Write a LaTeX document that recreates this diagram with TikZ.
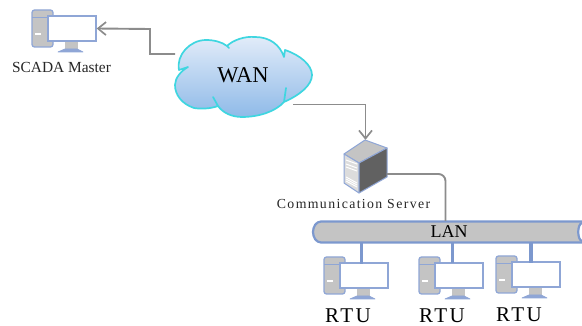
\documentclass[tikz,border=0pt]{standalone}
\usepackage{fontspec}
\setmainfont{Liberation Serif}
\definecolor{edgeblue}{HTML}{8FA6D6}
\definecolor{pipeblue}{HTML}{7C98CE}
\definecolor{partgray}{HTML}{C4C4C4}
\definecolor{linkgray}{HTML}{8C8C8C}
\definecolor{cloudedge}{HTML}{3FD6E0}
\definecolor{cloudtop}{HTML}{E2ECF9}
\definecolor{cloudbot}{HTML}{8FBAE8}
\usetikzlibrary{arrows.meta}
\tikzset{
  x=1pt,y=-1pt,
  part/.style={draw=edgeblue,fill=partgray,line width=1.3pt,line join=round},
  screen/.style={draw=edgeblue,fill=white,line width=1.3pt,rectangle,inner sep=0pt,minimum width=48pt,minimum height=25pt},
  link/.style={draw=linkgray,line width=1.9pt,-{Straight Barb[length=8pt,width=13pt,line width=1.7pt]}},
  plainlink/.style={draw=linkgray,line width=1.9pt,rounded corners=7pt},
  drop/.style={draw=pipeblue,line width=3.2pt},
  lbl/.style={inner sep=0pt,text=black!85},
  ghost/.style={rectangle,inner sep=0pt},
  rtulbl/.style={lbl,text=black,font=\fontsize{21}{22}\addfontfeature{LetterSpace=12}\selectfont}
}
\newcommand{\computer}[3]{%
  \begin{scope}[shift={(#2,#3)}]
    \draw[part,rounded corners=2.5pt] (0,0) rectangle (21,37);
    \draw[draw=edgeblue,line width=1pt] (0,8) -- (21,8);
    \draw[draw=white,line width=1.8pt] (3,24) -- (9,24);
    \draw[part,line width=.5pt,draw=partgray] (33,31) rectangle (45,39);
    \draw[part,line width=.8pt,fill=edgeblue] (33,39) -- (45,39) -- (51,42) -- (26,42) -- cycle;
    \node[screen] (#1) at (40,18.5) {};
  \end{scope}}
\begin{document}
\begin{tikzpicture}
\useasboundingbox (0,0) rectangle (582,326);
% computers
\computer{scada}{32}{10}
\computer{rtua}{324}{257}
\computer{rtub}{419}{257}
\computer{rtuc}{496}{256}
\node[lbl,font=\fontsize{15.4}{17}\selectfont] (scadalbl) at (61.5,67) {SCADA Master};
% cloud
\path[shade,top color=cloudtop,bottom color=cloudbot,
  draw=cloudedge,line width=1.7pt,line join=round]
  (179,70) .. controls (176,55) and (190,40) .. (206,40)
  .. controls (214,40) and (222,42) .. (227,46) -- (229,48) -- (227,46)
  .. controls (233,40) and (245,36) .. (255,37)
  .. controls (270,37) and (280,45) .. (284,57) -- (285,50)
  .. controls (300,55) and (312,65) .. (312,75)
  .. controls (312,85) and (300,95) .. (284,102) -- (286,88) -- (284,102)
  .. controls (275,112) and (258,117) .. (242,117)
  .. controls (232,117) and (223,113) .. (218,106) -- (213,97) -- (218,106)
  .. controls (210,109) and (200,109) .. (194,108)
  .. controls (182,104) and (175,95) .. (175,85)
  .. controls (175,78) and (181,71) .. (188,67) -- (179,70) -- cycle;
\node[ghost,minimum width=137pt,minimum height=80pt] (wan) at (243.5,77) {};
\node[lbl,text=black,font=\fontsize{22.5}{24}\selectfont] (wantxt) at (243,75.5) {WAN};
% server
\filldraw[draw=edgeblue,line width=1pt,fill=partgray,line join=round] (344,154) -- (365,140) -- (387,148) -- (359,163) -- cycle;
\filldraw[draw=edgeblue,line width=1pt,fill=partgray!60,line join=round] (344,154) -- (359,163) -- (359,193) -- (344,183) -- cycle;
\filldraw[draw=edgeblue,line width=1pt,fill=black!62,line join=round] (359,163) -- (387,148) -- (387,177) -- (359,193) -- cycle;
\foreach \a/\b in {160/164,164/168,167/171}{\draw[white,line width=1pt] (346,\a) -- (357,\b);}
\foreach \a/\b in {177/183,179/185,181/187}{\draw[white,line width=1pt] (346,\a) -- (357,\b);}
\node[ghost,minimum width=44pt,minimum height=53pt] (server) at (365.5,166.5) {};
\node[lbl,font=\fontsize{13.8}{15}\addfontfeature{LetterSpace=10}\selectfont] (serverlbl) at (353.5,204) {Communication Server};
% LAN pipe
\filldraw[draw=pipeblue,fill=partgray,line width=2.2pt] (582,221.5) -- (321,221.5) .. controls (316,221.5) and (313,227) .. (313,232) .. controls (313,237) and (316,242.5) .. (321,242.5) -- (582,242.5);
\fill[white,draw=pipeblue,line width=2.2pt] (582,223) .. controls (577,224) and (577,240) .. (582,241);
\node[ghost,minimum width=270pt,minimum height=22pt] (lan) at (447,232) {};
\node[lbl,text=black,font=\fontsize{18}{19}\selectfont] (lantxt) at (449,231.5) {LAN};
% connectors
\coordinate (wanw) at (175,54);
\coordinate (wane) at (293,104.5);
\coordinate (serve) at (387,174);
\coordinate (dropa) at (361.7,264);
\coordinate (dropb) at (452.7,263.5);
\coordinate (dropc) at (531,263);
\coordinate (lanj) at (445.5,221);
\draw[link] (wanw) -- (150,54) -- (150,29) -- (scada.east);
\draw[link] (wane) -- (server.north |- wane) -- (server.north);
\draw[plainlink] (serve) -- (lanj |- serve) -- (lanj);
\draw[drop] (lan.south -| dropa) -- (dropa);
\draw[drop] (lan.south -| dropb) -- (dropb);
\draw[drop] (lan.south -| dropc) -- (dropc);
% RTU labels
\node[rtulbl] (la) at (348,316) {RTU};
\node[rtulbl] (lb) at (442,316) {RTU};
\node[rtulbl] (lc) at (519,314.5) {RTU};
\end{tikzpicture}
\end{document}
